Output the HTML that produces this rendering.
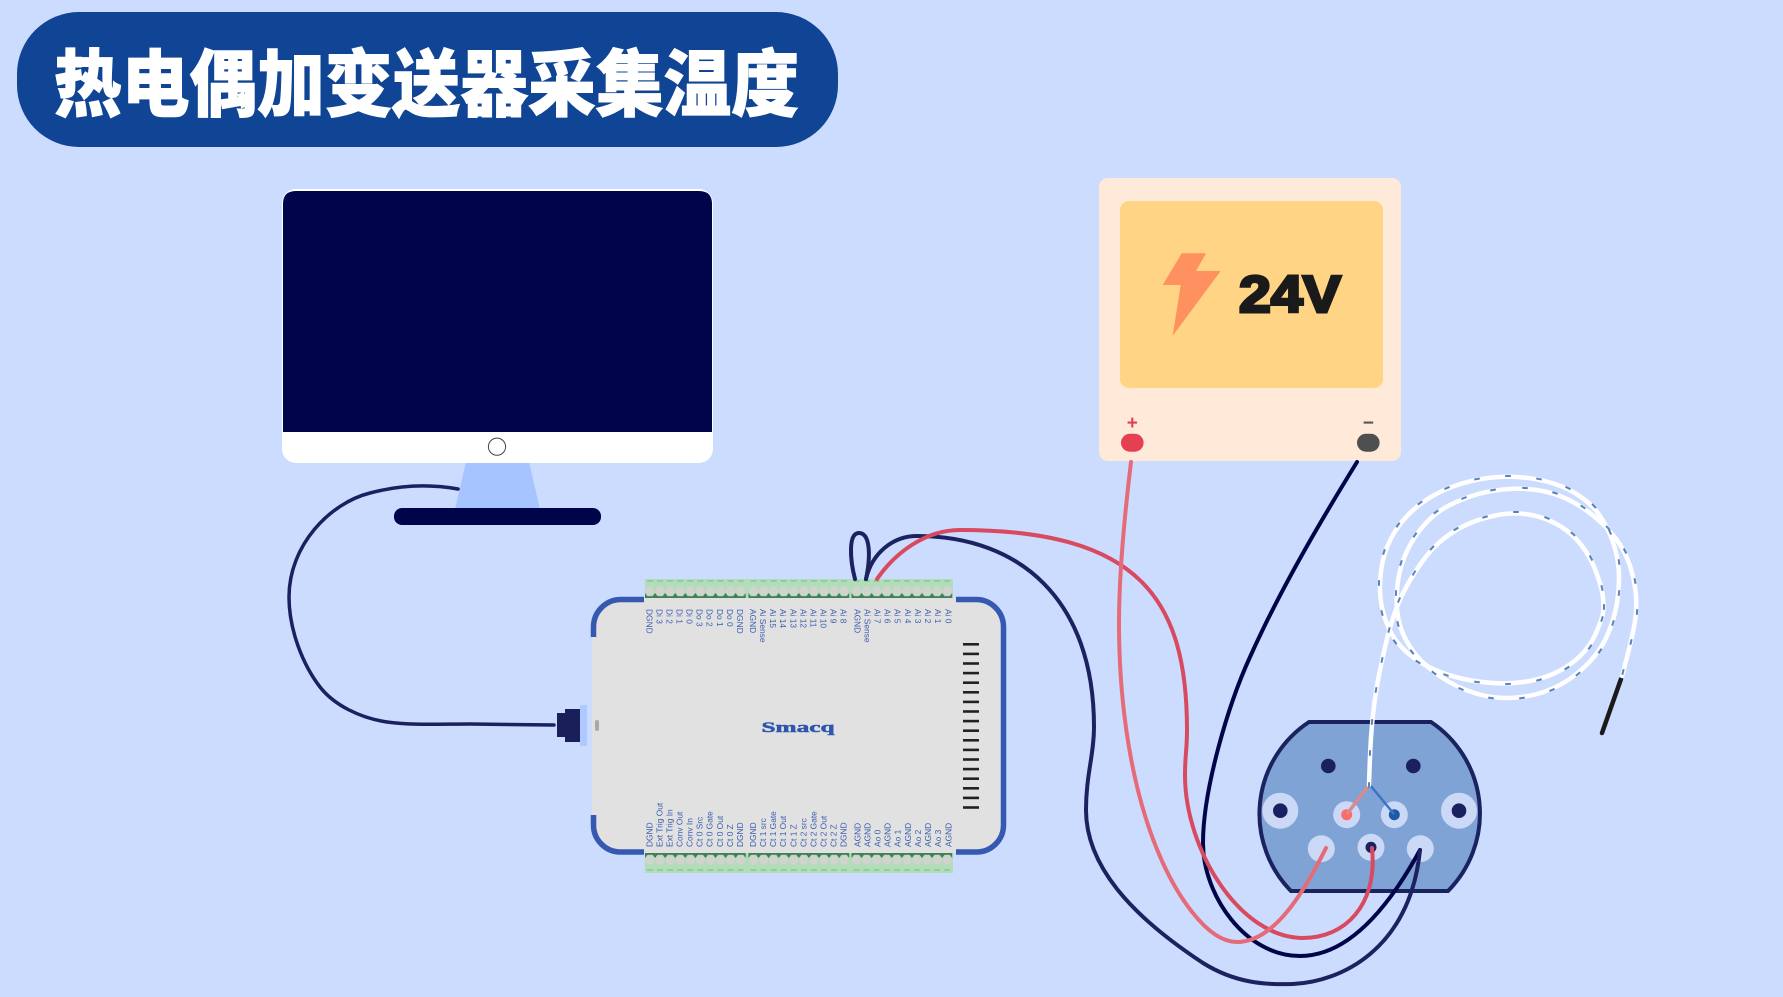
<!DOCTYPE html>
<html lang="zh">
<head>
<meta charset="utf-8">
<title>热电偶加变送器采集温度</title>
<style>
html,body{margin:0;padding:0;width:1783px;height:997px;overflow:hidden;background:#ccdcff}
svg{display:block}
.lb text{font-family:"Liberation Sans",sans-serif;font-size:8.4px;fill:#3d5fae}
.w{fill:none;stroke-linecap:round;stroke-linejoin:round}
</style>
</head>
<body>
<svg width="1783" height="997" viewBox="0 0 1783 997" xmlns="http://www.w3.org/2000/svg">
<defs>
<pattern id="tile" patternUnits="userSpaceOnUse" x="0" y="0" width="10.07" height="19">
<rect x="2" y="1" width="6" height="2" fill="#8fcf9f"/>
<circle cx="5" cy="12" r="4.6" fill="#d0d3ce"/>
<path d="M-3 18 L0 14 L3 18 Z M7.07 18 L10.07 14 L13.07 18 Z" fill="#3f8055"/>
<rect x="0" y="17.2" width="10.07" height="1.8" fill="#3f8055"/>
</pattern>
<marker id="dash" markerUnits="userSpaceOnUse" markerWidth="8" markerHeight="4" refX="4" refY="2" orient="auto">
<rect x="1.2" y="1" width="5.6" height="2" fill="#5a82b8"/>
</marker>
</defs>

<rect width="1783" height="997" fill="#ccdcff"/>

<!-- title -->
<rect x="17" y="12" width="821" height="135" rx="62" ry="62" fill="#104494"/>
<text x="54" y="110" textLength="745" lengthAdjust="spacingAndGlyphs" font-family="'Liberation Sans','Noto Sans CJK SC',sans-serif" font-weight="900" font-size="73" fill="#fff" stroke="#fff" stroke-width="1" stroke-linejoin="miter">热电偶加变送器采集温度</text>

<!-- monitor -->
<polygon points="466,462 529,462 540,509 455,509" fill="#a6c4ff"/>
<rect x="394" y="508" width="207" height="17" rx="8" fill="#00044a"/>
<rect x="282" y="189" width="431" height="274" rx="14" fill="#fff"/>
<path d="M283 432 V204 Q283 191 296 191 H699 Q712 191 712 204 V432 Z" fill="#00044a"/>
<circle cx="497" cy="446.7" r="8.6" fill="#fff" stroke="#444" stroke-width="1"/>

<!-- USB cable -->
<path class="w" stroke="#1a2060" stroke-width="3.5" d="M458 489 C430 484 400 485 370 493 C330 503 289 545 289 597 C289 630 303 665 320 687 C334 705 360 718 387 722 C410 725.4 440 724 470 724 L554 725"/>
<rect x="557" y="713" width="9" height="24" fill="#1a1f5a"/>
<rect x="565" y="709" width="15" height="33" fill="#1a1f5a"/>
<rect x="580" y="705" width="7" height="41" fill="#adc9ff"/>

<!-- device -->
<rect x="592" y="598" width="413" height="255" rx="28" fill="#e1e1e1"/>
<rect x="595" y="720" width="4" height="11" rx="2" fill="#a9a9a9"/>
<g fill="none" stroke="#3559b0" stroke-width="5.5">
<path d="M593.5 637 V627 A27.5 27.5 0 0 1 621 599.5 H644"/>
<path d="M593.5 815 V825 A27 27 0 0 0 621 852 H644"/>
<path d="M956 599.5 H976 A27.5 27.5 0 0 1 1003.5 627 V825 A27 27 0 0 1 976 852 H956"/>
</g>

<!-- terminals -->
<rect x="645" y="579" width="308" height="19" fill="#b3dcb9"/>
<rect x="645" y="853" width="308" height="20" fill="#b3dcb9"/>
<g transform="translate(645,579)"><rect width="100.7" height="19" fill="url(#tile)"/></g>
<g transform="translate(748.5,579)"><rect width="100.7" height="19" fill="url(#tile)"/></g>
<g transform="translate(851.5,579)"><rect width="100.7" height="19" fill="url(#tile)"/></g>
<g transform="translate(645,872) scale(1,-1)"><rect width="100.7" height="19" fill="url(#tile)"/></g>
<g transform="translate(748.5,872) scale(1,-1)"><rect width="100.7" height="19" fill="url(#tile)"/></g>
<g transform="translate(851.5,872) scale(1,-1)"><rect width="100.7" height="19" fill="url(#tile)"/></g>

<!-- top labels -->
<g class="lb">
<text transform="translate(646.3 609) rotate(90)">DGND</text>
<text transform="translate(656.4 609) rotate(90)">Di 3</text>
<text transform="translate(666.4 609) rotate(90)">Di 2</text>
<text transform="translate(676.5 609) rotate(90)">Di 1</text>
<text transform="translate(686.6 609) rotate(90)">Di 0</text>
<text transform="translate(696.7 609) rotate(90)">Do 3</text>
<text transform="translate(706.7 609) rotate(90)">Do 2</text>
<text transform="translate(716.8 609) rotate(90)">Do 1</text>
<text transform="translate(726.9 609) rotate(90)">Do 0</text>
<text transform="translate(737 609) rotate(90)">DGND</text>
<text transform="translate(750 609) rotate(90)">AGND</text>
<text transform="translate(760.1 609) rotate(90)">Ai Sense</text>
<text transform="translate(770.1 609) rotate(90)">Ai 15</text>
<text transform="translate(780.2 609) rotate(90)">Ai 14</text>
<text transform="translate(790.3 609) rotate(90)">Ai 13</text>
<text transform="translate(800.4 609) rotate(90)">Ai 12</text>
<text transform="translate(810.4 609) rotate(90)">Ai 11</text>
<text transform="translate(820.5 609) rotate(90)">Ai 10</text>
<text transform="translate(830.6 609) rotate(90)">Ai 9</text>
<text transform="translate(840.6 609) rotate(90)">Ai 8</text>
<text transform="translate(854.3 609) rotate(90)">AGND</text>
<text transform="translate(864.4 609) rotate(90)">Ai Sense</text>
<text transform="translate(874.5 609) rotate(90)">Ai 7</text>
<text transform="translate(884.6 609) rotate(90)">Ai 6</text>
<text transform="translate(894.7 609) rotate(90)">Ai 5</text>
<text transform="translate(904.8 609) rotate(90)">Ai 4</text>
<text transform="translate(914.9 609) rotate(90)">Ai 3</text>
<text transform="translate(925 609) rotate(90)">Ai 2</text>
<text transform="translate(935.1 609) rotate(90)">Ai 1</text>
<text transform="translate(945.5 609) rotate(90)">Ai 0</text>
<!-- bottom labels -->
<text transform="translate(652.3 847) rotate(-90)">DGND</text>
<text transform="translate(662.4 847) rotate(-90)">Ext Trig Out</text>
<text transform="translate(672.4 847) rotate(-90)">Ext Trig In</text>
<text transform="translate(682.5 847) rotate(-90)">Conv Out</text>
<text transform="translate(692.6 847) rotate(-90)">Conv In</text>
<text transform="translate(702.7 847) rotate(-90)">Ct 0 Src</text>
<text transform="translate(712.7 847) rotate(-90)">Ct 0 Gate</text>
<text transform="translate(722.8 847) rotate(-90)">Ct 0 Out</text>
<text transform="translate(732.9 847) rotate(-90)">Ct 0 Z</text>
<text transform="translate(743 847) rotate(-90)">DGND</text>
<text transform="translate(756 847) rotate(-90)">DGND</text>
<text transform="translate(766.1 847) rotate(-90)">Ct 1 src</text>
<text transform="translate(776.1 847) rotate(-90)">Ct 1 Gate</text>
<text transform="translate(786.2 847) rotate(-90)">Ct 1 Out</text>
<text transform="translate(796.3 847) rotate(-90)">Ct 1 Z</text>
<text transform="translate(806.4 847) rotate(-90)">Ct 2 src</text>
<text transform="translate(816.4 847) rotate(-90)">Ct 2 Gate</text>
<text transform="translate(826.5 847) rotate(-90)">Ct 2 Out</text>
<text transform="translate(836.6 847) rotate(-90)">Ct 2 Z</text>
<text transform="translate(846.6 847) rotate(-90)">DGND</text>
<text transform="translate(860.3 847) rotate(-90)">AGND</text>
<text transform="translate(870.4 847) rotate(-90)">AGND</text>
<text transform="translate(880.5 847) rotate(-90)">Ao 0</text>
<text transform="translate(890.6 847) rotate(-90)">AGND</text>
<text transform="translate(900.7 847) rotate(-90)">Ao 1</text>
<text transform="translate(910.8 847) rotate(-90)">AGND</text>
<text transform="translate(920.9 847) rotate(-90)">Ao 2</text>
<text transform="translate(931 847) rotate(-90)">AGND</text>
<text transform="translate(941.1 847) rotate(-90)">Ao 3</text>
<text transform="translate(951.5 847) rotate(-90)">AGND</text>
</g>

<text x="761.5" y="732" textLength="73" lengthAdjust="spacingAndGlyphs" font-family="'Liberation Serif',serif" font-weight="700" font-size="15" fill="#2f55ad" stroke="#2f55ad" stroke-width="0.5">Smacq</text>

<!-- vent -->
<g fill="#222">
<rect x="963" y="643" width="16" height="2.6"/><rect x="963" y="652.6" width="16" height="2.6"/><rect x="963" y="662.2" width="16" height="2.6"/><rect x="963" y="671.8" width="16" height="2.6"/><rect x="963" y="681.4" width="16" height="2.6"/><rect x="963" y="691" width="16" height="2.6"/><rect x="963" y="700.6" width="16" height="2.6"/><rect x="963" y="710.2" width="16" height="2.6"/><rect x="963" y="719.8" width="16" height="2.6"/><rect x="963" y="729.4" width="16" height="2.6"/><rect x="963" y="739" width="16" height="2.6"/><rect x="963" y="748.6" width="16" height="2.6"/><rect x="963" y="758.2" width="16" height="2.6"/><rect x="963" y="767.8" width="16" height="2.6"/><rect x="963" y="777.4" width="16" height="2.6"/><rect x="963" y="787" width="16" height="2.6"/><rect x="963" y="796.6" width="16" height="2.6"/><rect x="963" y="806.2" width="16" height="2.6"/>
</g>

<!-- power supply -->
<rect x="1099" y="178" width="302" height="283" rx="9" fill="#ffe9d9"/>
<rect x="1120" y="201" width="263" height="187" rx="9" fill="#ffd485"/>
<polygon points="1181.7,253.3 1206,253.3 1196,271 1220.7,271 1172.7,335.7 1180.7,285 1162.7,285" fill="#ff9160"/>
<text x="1239" y="312" textLength="102" lengthAdjust="spacingAndGlyphs" font-family="'Liberation Sans',sans-serif" font-weight="700" font-size="52" fill="#1a1a1a" stroke="#1a1a1a" stroke-width="3" stroke-linejoin="miter">24V</text>
<text x="1132.3" y="429" text-anchor="middle" font-family="'Liberation Sans',sans-serif" font-weight="700" font-size="19" fill="#e53f52">+</text>
<text x="1368.3" y="429" text-anchor="middle" font-family="'Liberation Sans',sans-serif" font-weight="700" font-size="19" fill="#555">−</text>
<rect x="1121" y="433.7" width="22.6" height="18" rx="9" fill="#e53f52"/>
<rect x="1357" y="433.7" width="22.6" height="18" rx="9" fill="#4f4f4f"/>

<!-- transmitter -->
<path d="M1309 722 H1431 A110 110 0 0 1 1448 891 H1291 A110 110 0 0 1 1309 722 Z" fill="#7ea3d4" stroke="#1a2260" stroke-width="4"/>
<circle cx="1328.3" cy="766" r="7.3" fill="#1a2060"/>
<circle cx="1413.3" cy="766" r="7.3" fill="#1a2060"/>
<circle cx="1280.3" cy="810.7" r="18" fill="#cbd9f7"/>
<circle cx="1280.3" cy="810.7" r="7.3" fill="#1a2060"/>
<circle cx="1459" cy="810.7" r="18" fill="#cbd9f7"/>
<circle cx="1459" cy="810.7" r="7.3" fill="#1a2060"/>
<circle cx="1346.7" cy="814.7" r="13.5" fill="#cbd9f7"/>
<circle cx="1346.7" cy="814.7" r="5.5" fill="#ff6b6b"/>
<circle cx="1394.3" cy="814.7" r="13.5" fill="#cbd9f7"/>
<circle cx="1394.3" cy="814.7" r="5.5" fill="#1e5aa8"/>
<circle cx="1321.3" cy="848.7" r="13.5" fill="#cbd9f7"/>
<circle cx="1371" cy="847.3" r="13.5" fill="#cbd9f7"/>
<circle cx="1371" cy="847.3" r="5.5" fill="#1a2060"/>
<circle cx="1420.3" cy="848.7" r="13.5" fill="#cbd9f7"/>
<line x1="1369" y1="785" x2="1347" y2="814" stroke="#d98a8c" stroke-width="3.5"/>
<line x1="1370" y1="785" x2="1394" y2="814" stroke="#3d72c4" stroke-width="2.5"/>

<!-- wires -->
<path class="w" stroke="#00054a" stroke-width="4" d="M1357 462 C1320 522 1280 590 1250 657 C1228 705 1203 790 1203 843 C1203 895 1245 956 1300 956 C1350 956 1390 905 1420 850"/>
<path class="w" stroke="#1c2260" stroke-width="4" d="M866 579 C872 553 893 536 917 536 C1020 536 1094 600 1094 727 C1094 755 1086 775 1086 810 C1086 865 1130 915 1203 963 C1235 983 1265 985 1293 984 C1340 982 1410 950 1420 850"/>
<path class="w" stroke="#1c2260" stroke-width="4" d="M855 579 C850 560 848 533 859 533 C870 533 871 555 866 579"/>
<path class="w" stroke="#d84a5f" stroke-width="4" d="M877 579 C895 553 925 530 960 530 C1140 530 1187 600 1187 730 C1187 750 1185 755 1185 775 C1185 850 1240 938 1303 938 C1345 938 1378 905 1372 848"/>
<path class="w" stroke="#e56b78" stroke-width="4" d="M1131 462 C1124 520 1119 575 1119 623 C1119 700 1130 790 1162 861 C1175 890 1205 942 1237 942 C1275 942 1305 890 1326 848"/>

<!-- thermocouple -->
<line x1="1621" y1="679" x2="1602" y2="733" stroke="#1a1a1a" stroke-width="4.5" stroke-linecap="round"/>
<path class="w" stroke="#fff" stroke-width="4.5" d="M1369 785 Q1370 753 1371 737.5 Q1372 722 1374 706 Q1376 690 1379 675 Q1382 660 1385.5 645 Q1389 630 1394 615 Q1399 600 1406.5 586.5 Q1414 573 1423 560.5 Q1432 548 1444 538.5 Q1456 529 1470.5 523 Q1485 517 1500.5 514.5 Q1516 512 1531.5 515 Q1547 518 1560 526 Q1573 534 1582 546 Q1591 558 1596.5 573 Q1602 588 1603 597.5 Q1604 607 1603 613 Q1602 619 1596 633 Q1590 647 1578.5 657.5 Q1567 668 1553 674 Q1539 680 1523.5 682 Q1508 684 1492.5 683 Q1477 682 1461.5 678.5 Q1446 675 1432 668.5 Q1418 662 1406.5 652 Q1395 642 1388.5 627.5 Q1382 613 1380.5 598 Q1379 583 1381.5 567.5 Q1384 552 1391 538.5 Q1398 525 1409 514 Q1420 503 1433.5 495.5 Q1447 488 1462 483.5 Q1477 479 1492.5 477.5 Q1508 476 1523.5 477.5 Q1539 479 1553.5 483.5 Q1568 488 1581 497 Q1594 506 1602 519 Q1610 532 1614.5 547 Q1619 562 1619 577.5 Q1619 593 1616 608 Q1613 623 1606.5 637 Q1600 651 1589 662.5 Q1578 674 1565 682 Q1552 690 1537 694 Q1522 698 1506.5 698 Q1491 698 1476 693.5 Q1461 689 1447.5 681 Q1434 673 1423 662.5 Q1412 652 1405 638 Q1398 624 1397 608.5 Q1396 593 1398.5 578 Q1401 563 1408 549 Q1415 535 1425.5 523.5 Q1436 512 1450 505 Q1464 498 1478.5 494 Q1493 490 1509 489 Q1525 488 1540 490.5 Q1555 493 1569 500 Q1583 507 1595.5 517.5 Q1608 528 1616.5 539.5 Q1625 551 1630 566 Q1635 581 1636 596.5 Q1637 612 1634 627 Q1631 642 1626.5 659 L1622 676"/>
<polyline fill="none" stroke="none" marker-start="url(#dash)" marker-mid="url(#dash)" marker-end="url(#dash)" points="1369,785 1370,753 1372,722 1376,690 1382,660 1389,630 1399,600 1414,573 1432,548 1456,529 1485,517 1516,512 1547,518 1573,534 1591,558 1602,588 1604,607 1602,619 1590,647 1567,668 1539,680 1508,684 1477,682 1446,675 1418,662 1395,642 1382,613 1379,583 1384,552 1398,525 1420,503 1447,488 1477,479 1508,476 1539,479 1568,488 1594,506 1610,532 1619,562 1619,593 1613,623 1600,651 1578,674 1552,690 1522,698 1491,698 1461,689 1434,673 1412,652 1398,624 1396,593 1401,563 1415,535 1436,512 1464,498 1493,490 1525,488 1555,493 1583,507 1608,528 1625,551 1635,581 1637,612 1631,642 1623,672"/>
</svg>
</body>
</html>
